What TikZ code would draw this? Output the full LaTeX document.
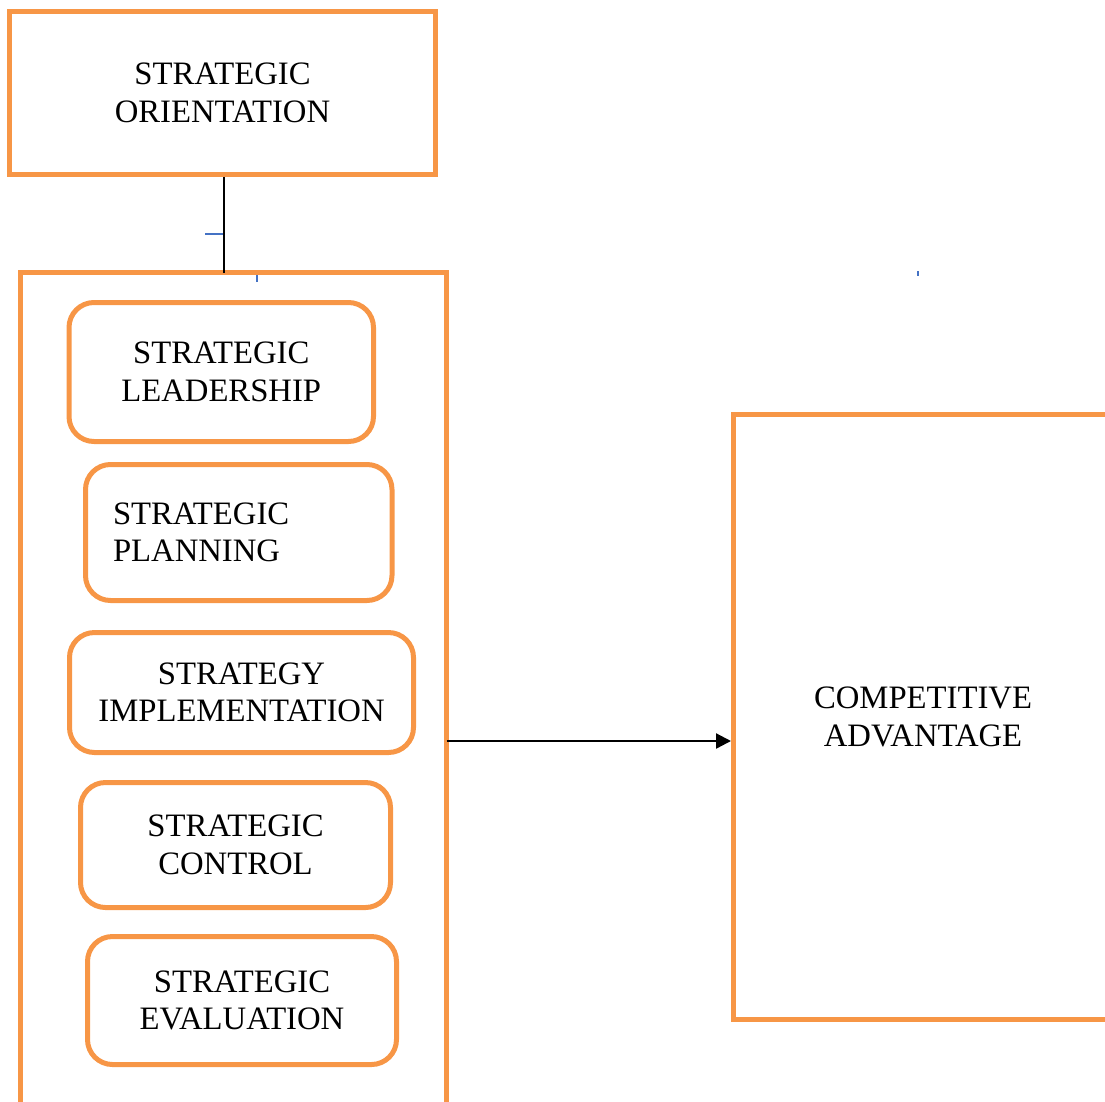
\documentclass[tikz,border=0pt]{standalone}
\usepackage{fontspec}
\setmainfont{Liberation Serif}
\usetikzlibrary{arrows.meta}
\definecolor{boxorange}{HTML}{F79646}
\definecolor{tickblue}{HTML}{4472C4}
\begin{document}
\begin{tikzpicture}[x=1pt,y=-1pt,
  every node/.style={font=\fontsize{32.7}{37.5}\selectfont, inner sep=0pt, align=center},
  sqbox/.style={draw=boxorange, line width=5pt, rectangle},
  rbox/.style={draw=boxorange, line width=5pt, rectangle, rounded corners=25pt},
  link/.style={draw=black, line width=2.3pt},
  tick/.style={draw=tickblue, line width=1.6pt}]
\useasboundingbox (0,0) rectangle (1105,1101);
\clip (0,0) rectangle (1105,1101);

% top box
\node[sqbox, minimum width=426pt, minimum height=162.5pt] (orient) at (222.5,93) {STRATEGIC\\ORIENTATION};

% container (open at bottom)
\coordinate (cTL) at (20.5,272.5);
\coordinate (cTR) at (446.5,272.5);
\coordinate (cTop) at (224,272.5);
\coordinate (cOut) at (446.5,741);
\draw[draw=boxorange, line width=5pt] (20.5,1110) -- (cTL) -- (cTR) -- (446.5,1110);

% inner rounded boxes
\node[rbox, minimum width=304.5pt, minimum height=139pt] (lead) at (221.25,372) {STRATEGIC\\LEADERSHIP};
\node[rbox, minimum width=306.5pt, minimum height=136pt, inner xsep=27.5pt, text width=251.5pt, align=left] (plan) at (238.75,532.5) {STRATEGIC\\PLANNING};
\node[rbox, minimum width=344pt, minimum height=120pt] (impl) at (241.5,692.5) {STRATEGY\\IMPLEMENTATION};
\node[rbox, minimum width=310pt, minimum height=125pt] (ctrl) at (235.5,845) {STRATEGIC\\CONTROL};
\node[rbox, minimum width=309pt, minimum height=128pt] (eval) at (242,1000.5) {STRATEGIC\\EVALUATION};

% competitive advantage box (cut off at right)
\node[sqbox, minimum width=379pt, minimum height=604.5pt] (comp) at (923,716.75) {COMPETITIVE\\ADVANTAGE};

% connectors
\draw[link] (orient.south -| cTop) -- (cTop);
\draw[link, -{Triangle[length=15pt,width=15pt]}] (cOut) -- (comp.west |- cOut);

% small blue ticks
\coordinate (t1a) at (205,234);
\coordinate (t1b) at (223,234);
\draw[tick] (t1a) -- (t1b);
\coordinate (t2a) at (257,275);
\coordinate (t2b) at (257,282);
\draw[tick] (t2a) -- (t2b);
\coordinate (t3a) at (918,271);
\coordinate (t3b) at (918,275.5);
\draw[tick] (t3a) -- (t3b);
\end{tikzpicture}
\end{document}
